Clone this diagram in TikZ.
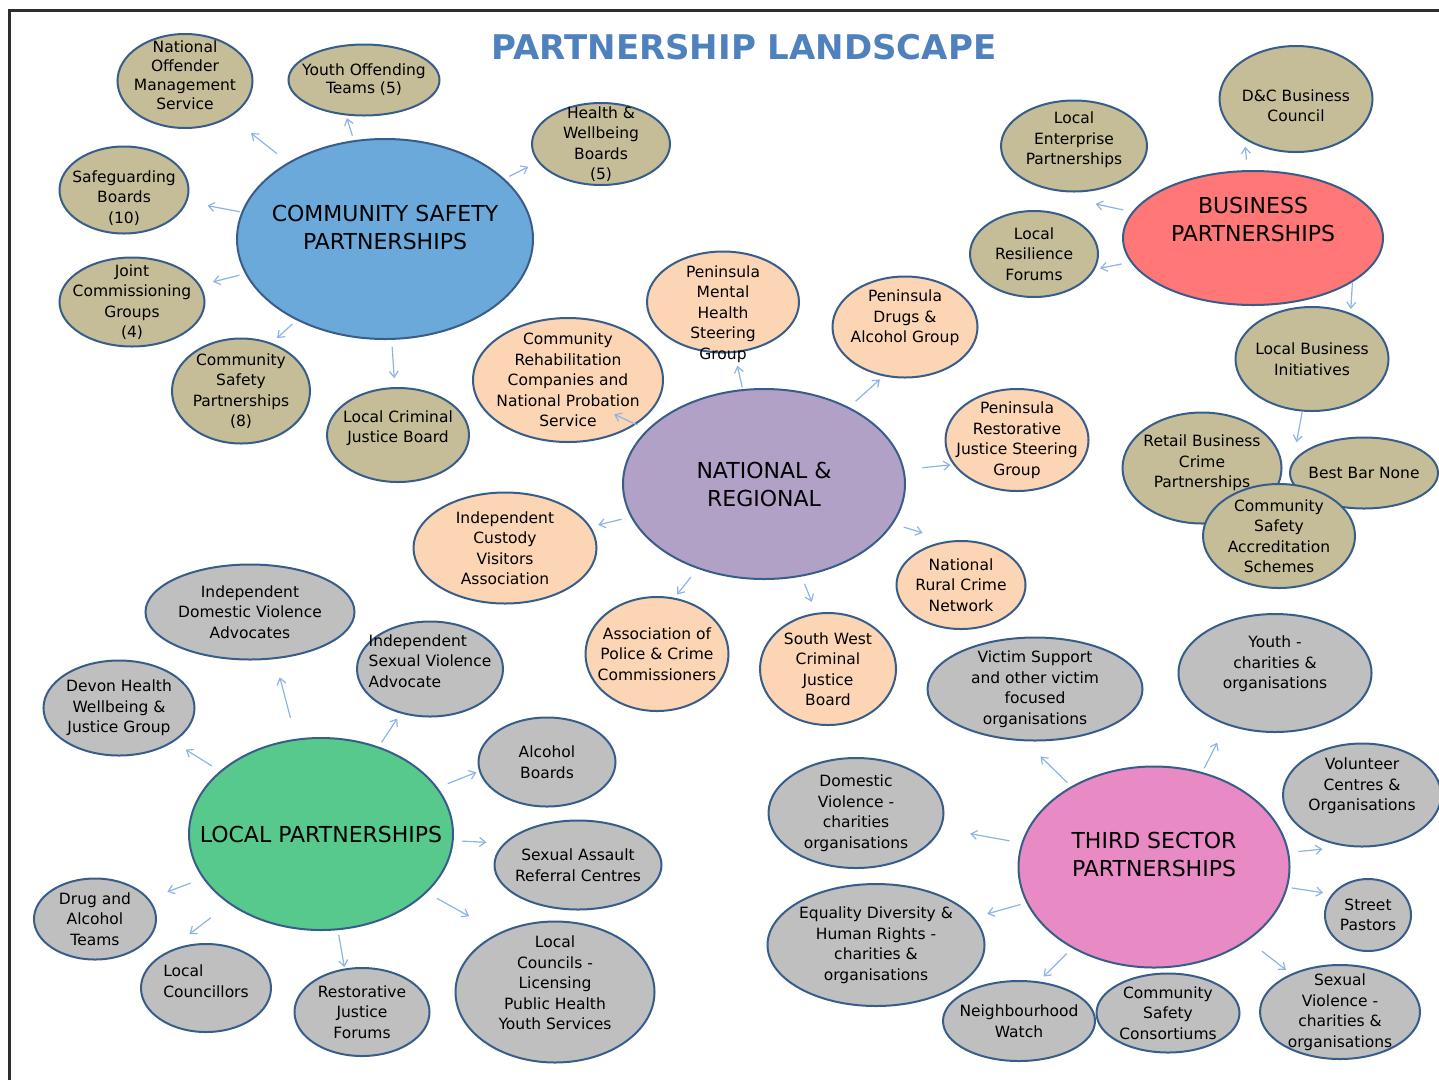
\documentclass[tikz,border=0pt]{standalone}
\usepackage{fontspec}
\setmainfont{DejaVu Sans}
\usepackage{tikz}
\usetikzlibrary{shapes.geometric,calc,arrows.meta}
\definecolor{CSPblue}{RGB}{106,169,218}
\definecolor{BPred}{RGB}{255,119,119}
\definecolor{NRpurple}{RGB}{177,161,199}
\definecolor{LPgreen}{RGB}{87,201,141}
\definecolor{TSPpink}{RGB}{232,138,196}
\definecolor{khaki}{RGB}{196,189,151}
\definecolor{peach}{RGB}{252,213,180}
\definecolor{leafgrey}{RGB}{191,191,191}
\definecolor{rimblue}{RGB}{56,93,138}
\definecolor{linkblue}{RGB}{141,180,226}
\definecolor{titleblue}{RGB}{79,129,189}
\definecolor{framegrey}{RGB}{45,45,45}

\begin{document}
\begin{tikzpicture}[x=1pt, y=-1pt,
            hub/.style={ellipse, draw=rimblue, line width=2pt, inner sep=-30pt, align=center, font=\fontsize{22}{28}\selectfont},
            leaf/.style={ellipse, draw=rimblue, line width=2pt, inner sep=-30pt, align=center, font=\fontsize{15.5}{20.5}\selectfont},
            link/.style={-{Straight Barb[length=6pt,width=9pt]}, linkblue, line width=1.2pt}
        ]
            \useasboundingbox (0,0) rectangle (1439,1080);

            % Frame and title
            \draw [line width=3pt, framegrey] (9,1080) -- (9,10) -- (1439,10);
            \node [font=\fontsize{34}{40}\selectfont\bfseries, titleblue] (title) at (744,47) {PARTNERSHIP LANDSCAPE};

            % Community safety
            \node [hub, fill=CSPblue, minimum width=296pt, minimum height=200pt, text depth=24pt] (csp) at (385,239) {COMMUNITY SAFETY\\PARTNERSHIPS};
            \node [leaf, fill=khaki, minimum width=135pt, minimum height=94pt, text depth=12pt, font=\fontsize{15.5}{19}\selectfont] (noms) at (185,81) {National\\Offender\\Management\\Service};
            \node [leaf, fill=khaki, minimum width=151pt, minimum height=71pt, font=\fontsize{15.5}{18}\selectfont] (yot) at (364,80) {Youth Offending\\Teams (5)};
            \node [leaf, fill=khaki, minimum width=138pt, minimum height=82pt] (hwb) at (601,144) {Health \&\\Wellbeing\\Boards\\(5)};
            \node [leaf, fill=khaki, minimum width=129pt, minimum height=87pt, text height=69pt] (sgb) at (124,190) {Safeguarding\\Boards\\(10)};
            \node [leaf, fill=khaki, minimum width=145pt, minimum height=89pt] (jcg) at (132,302) {Joint\\Commissioning\\Groups\\(4)};
            \node [leaf, fill=khaki, minimum width=138pt, minimum height=105pt] (csp8) at (241,391) {Community\\Safety\\Partnerships\\(8)};
            \node [leaf, fill=khaki, minimum width=142pt, minimum height=94pt, text depth=17pt] (lcjb) at (398,435) {Local Criminal\\Justice Board};

            \draw [link] ($(csp)!0.54!(noms)$) -- ($(csp)!0.67!(noms)$);
            \draw [link] ($(csp)!0.675!10:(yot)$) -- ($(csp)!0.79!10:(yot)$);
            \draw [link] ($(csp)!0.59!3:(hwb)$) -- ($(csp)!0.68!3:(hwb)$);
            \draw [link] ($(csp)!0.556!(sgb)$) -- ($(csp)!0.68!(sgb)$);
            \draw [link] ($(csp)!0.575!(jcg)$) -- ($(csp)!0.68!(jcg)$);
            \draw [link] ($(csp)!0.6!-4:(csp8)$) -- ($(csp)!0.7!-4:(csp8)$);
            \draw [link] ($(csp)!0.55!(lcjb)$) -- ($(csp)!0.71!(lcjb)$);

            % Business
            \node [hub, fill=BPred, minimum width=260pt, minimum height=134pt, text depth=38pt] (bp) at (1253,238) {BUSINESS\\PARTNERSHIPS};
            \node [leaf, fill=khaki, minimum width=153pt, minimum height=106pt, text height=46pt] (dcbc) at (1296,99) {D\&C Business\\Council};
            \node [leaf, fill=khaki, minimum width=146pt, minimum height=91pt, text depth=15pt] (lep) at (1074,146) {Local\\Enterprise\\Partnerships};
            \node [leaf, fill=khaki, minimum width=128pt, minimum height=86pt] (lrf) at (1034,254) {Local\\Resilience\\Forums};
            \node [leaf, fill=khaki, minimum width=153pt, minimum height=104pt] (lbi) at (1312,359) {Local Business\\Initiatives};
            \node [leaf, fill=khaki, minimum width=159pt, minimum height=111pt, text depth=13pt] (rbcp) at (1202,468) {Retail Business\\Crime\\Partnerships};
            \node [leaf, fill=khaki, minimum width=148pt, minimum height=71pt] (bbn) at (1364,473) {Best Bar None};
            \node [leaf, fill=khaki, minimum width=152pt, minimum height=104pt] (csas) at (1279,536) {Community\\Safety\\Accreditation\\Schemes};

            \draw [link] ($(bp)!0.54!22:(dcbc)$) -- ($(bp)!0.63!22:(dcbc)$);
            \draw [link] ($(bp)!0.66!15:(lep)$) -- ($(bp)!0.8!15:(lep)$);
            \draw [link] ($(bp)!0.61!7:(lrf)$) -- ($(bp)!0.71!7:(lrf)$);
            \draw [link, shorten >=4pt] (bp.-24) -- (lbi.50);
            \draw [link] ($(lbi)!0.3!(csas)$) -- ($(lbi)!0.47!(csas)$);

            % National and regional
            \node [hub, fill=NRpurple, minimum width=282pt, minimum height=190pt] (nr) at (764,484) {NATIONAL \&\\REGIONAL};
            \node [leaf, fill=peach, minimum width=152pt, minimum height=101pt, text height=118pt] (pmh) at (723,302) {Peninsula\\Mental\\Health\\Steering\\Group};
            \node [leaf, fill=peach, minimum width=145pt, minimum height=101pt, text depth=21pt] (pda) at (905,327) {Peninsula\\Drugs \&\\Alcohol Group};
            \node [leaf, fill=peach, minimum width=190pt, minimum height=124pt] (crc) at (568,380) {Community\\Rehabilitation\\Companies and\\National Probation\\Service};
            \node [leaf, fill=peach, minimum width=143pt, minimum height=102pt] (prj) at (1017,440) {Peninsula\\Restorative\\Justice Steering\\Group};
            \node [leaf, fill=peach, minimum width=183pt, minimum height=111pt] (icva) at (505,548) {Independent\\Custody\\Visitors\\Association};
            \node [leaf, fill=peach, minimum width=129pt, minimum height=88pt] (nrcn) at (961,585) {National\\Rural Crime\\Network};
            \node [leaf, fill=peach, minimum width=143pt, minimum height=114pt] (apcc) at (657,654) {Association of\\Police \& Crime\\Commissioners};
            \node [leaf, fill=peach, minimum width=136pt, minimum height=112pt] (swcjb) at (828,669) {South West\\Criminal\\Justice\\Board};

            \draw [link] ($(nr)!0.53!(pmh)$) -- ($(nr)!0.65!(pmh)$);
            \draw [link] ($(nr)!0.585!-6:(pda)$) -- ($(nr)!0.74!-6:(pda)$);
            \draw [link] ($(nr)!0.63!3:(crc)$) -- ($(nr)!0.745!3:(crc)$);
            \draw [link] ($(nr)!0.62!-4:(prj)$) -- ($(nr)!0.73!-4:(prj)$);
            \draw [link] ($(nr)!0.55!(icva)$) -- ($(nr)!0.64!(icva)$);
            \draw [link] ($(nr)!0.66!10:(nrcn)$) -- ($(nr)!0.75!10:(nrcn)$);
            \draw [link] ($(nr)!0.59!-6:(apcc)$) -- ($(nr)!0.7!-6:(apcc)$);
            \draw [link] ($(nr)!0.55!3:(swcjb)$) -- ($(nr)!0.65!3:(swcjb)$);

            % Local
            \node [hub, fill=LPgreen, minimum width=264pt, minimum height=192pt] (lp) at (321,834) {LOCAL PARTNERSHIPS};
            \node [leaf, fill=leafgrey, minimum width=209pt, minimum height=95pt] (idva) at (250,612) {Independent\\Domestic Violence\\Advocates};
            \node [leaf, fill=leafgrey, minimum width=146pt, minimum height=95pt, align=left, text depth=16pt] (isva) at (430,669) {Independent\\Sexual Violence\\Advocate};
            \node [leaf, fill=leafgrey, minimum width=151pt, minimum height=95pt] (dhwj) at (119,708) {Devon Health\\Wellbeing \&\\Justice Group};
            \node [leaf, fill=leafgrey, minimum width=137pt, minimum height=89pt] (ab) at (547,762) {Alcohol\\Boards};
            \node [leaf, fill=leafgrey, minimum width=167pt, minimum height=89pt] (sarc) at (578,865) {Sexual Assault\\Referral Centres};
            \node [leaf, fill=leafgrey, minimum width=122pt, minimum height=81pt] (dat) at (95,919) {Drug and\\Alcohol\\Teams};
            \node [leaf, fill=leafgrey, minimum width=130pt, minimum height=88pt, align=left, text depth=14pt] (lc) at (206,988) {Local\\Councillors};
            \node [leaf, fill=leafgrey, minimum width=135pt, minimum height=88pt] (rjf) at (362,1012) {Restorative\\Justice\\Forums};
            \node [leaf, fill=leafgrey, minimum width=199pt, minimum height=141pt, text depth=18pt] (lclc) at (555,992) {Local\\Councils -\\Licensing\\Public Health\\Youth Services};

            \draw [link] ($(lp)!0.515!-3:(idva)$) -- ($(lp)!0.695!-3:(idva)$);
            \draw [link] ($(lp)!0.556!(isva)$) -- ($(lp)!0.7!(isva)$);
            \draw [link] ($(lp)!0.54!(dhwj)$) -- ($(lp)!0.67!(dhwj)$);
            \draw [link] ($(lp)!0.575!4:(ab)$) -- ($(lp)!0.705!4:(ab)$);
            \draw [link] ($(lp)!0.545!4:(sarc)$) -- ($(lp)!0.64!4:(sarc)$);
            \draw [link] ($(lp)!0.577!(dat)$) -- ($(lp)!0.68!(dat)$);
            \draw [link] ($(lp)!0.72!-16:(lc)$) -- ($(lp)!0.86!-16:(lc)$);
            \draw [link] ($(lp)!0.56!-3:(rjf)$) -- ($(lp)!0.74!-3:(rjf)$);
            \draw [link] ($(lp)!0.47!5:(lclc)$) -- ($(lp)!0.6!5:(lclc)$);

            % Third sector
            \node [hub, fill=TSPpink, minimum width=271pt, minimum height=201pt, text depth=26pt] (tsp) at (1154,867) {THIRD SECTOR\\PARTNERSHIPS};
            \node [leaf, fill=leafgrey, minimum width=215pt, minimum height=103pt] (vs) at (1035,689) {Victim Support\\and other victim\\focused\\organisations};
            \node [leaf, fill=leafgrey, minimum width=193pt, minimum height=118pt, text depth=21pt] (ycho) at (1275,673) {Youth -\\charities \&\\organisations};
            \node [leaf, fill=leafgrey, minimum width=175pt, minimum height=110pt] (dvco) at (856,813) {Domestic\\Violence -\\charities\\organisations};
            \node [leaf, fill=leafgrey, minimum width=158pt, minimum height=103pt, text depth=21pt] (vco) at (1362,795) {Volunteer\\Centres \&\\Organisations};
            \node [leaf, fill=leafgrey, minimum width=86pt, minimum height=72pt] (sp) at (1368,915) {Street\\Pastors};
            \node [leaf, fill=leafgrey, minimum width=217pt, minimum height=122pt] (edhr) at (876,945) {Equality Diversity \&\\Human Rights -\\charities \&\\organisations};
            \node [leaf, fill=leafgrey, minimum width=152pt, minimum height=80pt] (nw) at (1019,1021) {Neighbourhood\\Watch};
            \node [leaf, fill=leafgrey, minimum width=143pt, minimum height=79pt] (cscons) at (1168,1013) {Community\\Safety\\Consortiums};
            \node [leaf, fill=leafgrey, minimum width=160pt, minimum height=94pt] (svco) at (1340,1012) {Sexual\\Violence -\\charities \&\\organisations};

            \draw [link] ($(tsp)!0.565!12:(vs)$) -- ($(tsp)!0.74!12:(vs)$);
            \draw [link] ($(tsp)!0.485!5:(ycho)$) -- ($(tsp)!0.61!5:(ycho)$);
            \draw [link] ($(tsp)!0.485!(dvco)$) -- ($(tsp)!0.617!(dvco)$);
            \draw [link] ($(tsp)!0.66!-13:(vco)$) -- ($(tsp)!0.77!-13:(vco)$);
            \draw [link] ($(tsp)!0.635!4:(sp)$) -- ($(tsp)!0.78!4:(sp)$);
            \draw [link] ($(tsp)!0.48!(edhr)$) -- ($(tsp)!0.6!(edhr)$);
            \draw [link] ($(tsp)!0.6!-4:(nw)$) -- ($(tsp)!0.76!-4:(nw)$);
            \draw [link] ($(tsp)!0.58!(svco)$) -- ($(tsp)!0.71!(svco)$);
        \end{tikzpicture}
\end{document}
